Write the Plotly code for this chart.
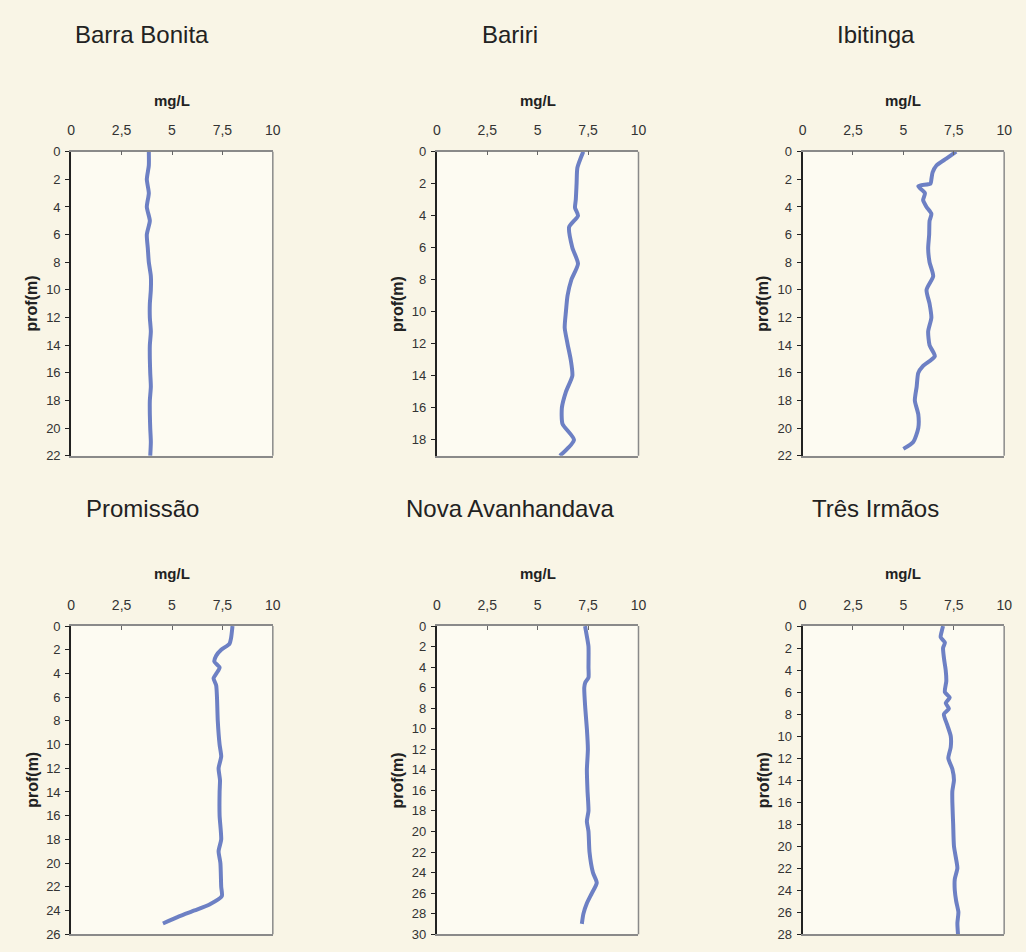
import plotly.graph_objects as go

# ---- data (depth in m, dissolved oxygen in mg/L) ----
names = ["Barra Bonita", "Bariri", "Ibitinga", "Promissão", "Nova Avanhandava", "Três Irmãos"]

bb_depth = [0, 1, 2, 3, 4, 5, 6, 7, 8, 9, 10, 11, 12, 13, 14, 15, 16, 17, 18, 19, 20, 21, 22]
bb_od = [3.85, 3.85, 3.75, 3.85, 3.75, 3.9, 3.75, 3.8, 3.85, 3.95, 3.95, 3.9, 3.9, 3.95, 3.9, 3.9,
         3.92, 3.95, 3.9, 3.9, 3.92, 3.95, 3.92]

ba_depth = [0, 1, 2, 3, 3.5, 4, 4.7, 6, 7, 8, 9, 10, 11, 12, 13, 14, 15, 16, 17, 18, 19]
ba_od = [7.26, 6.97, 6.93, 6.89, 6.85, 7.0, 6.56, 6.72, 7.0, 6.67, 6.48, 6.4, 6.34, 6.48, 6.64,
         6.72, 6.4, 6.2, 6.23, 6.8, 6.1]

ib_depth = [0, 0.5, 1, 1.5, 2, 2.3, 2.5, 3, 3.5, 4, 4.5, 5, 6, 7, 8, 9, 10, 11, 12, 13, 14, 14.8,
            15.5, 16, 17, 18, 19, 20, 21, 21.5]
ib_od = [7.62, 7.13, 6.64, 6.45, 6.39, 6.35, 5.74, 6.07, 5.98, 6.15, 6.39, 6.3, 6.28, 6.23, 6.3,
         6.48, 6.15, 6.3, 6.39, 6.23, 6.3, 6.56, 5.98, 5.74, 5.66, 5.57, 5.74, 5.74, 5.49, 5.0]

pr_depth = [0, 1, 1.5, 2, 2.5, 3, 3.5, 4, 4.4, 5, 6, 8, 10, 11, 12, 13, 14, 16, 18, 19, 20, 22,
            22.8, 23.5, 24, 24.5, 25.1]
pr_od = [8.0, 7.93, 7.85, 7.44, 7.19, 7.1, 7.36, 7.2, 7.06, 7.19, 7.23, 7.27, 7.36, 7.44, 7.31,
         7.38, 7.36, 7.36, 7.44, 7.31, 7.4, 7.44, 7.47, 6.86, 6.12, 5.35, 4.55]

na_depth = [0, 1, 2, 4, 5, 5.5, 6, 8, 10, 12, 14, 16, 18, 19, 20, 22, 24, 25, 26, 27, 28, 29]
na_od = [7.35, 7.44, 7.52, 7.52, 7.52, 7.36, 7.31, 7.36, 7.44, 7.49, 7.44, 7.47, 7.52, 7.44,
         7.52, 7.57, 7.74, 7.93, 7.69, 7.44, 7.27, 7.19]

ti_depth = [0, 0.5, 1, 1.5, 2, 3, 4, 5, 6, 6.5, 7, 7.5, 8, 9, 10, 11, 12, 13, 14, 15, 16, 18, 20,
            21, 22, 23, 24, 25, 26, 27, 28]
ti_od = [6.97, 6.9, 6.85, 7.06, 6.97, 7.02, 7.1, 7.13, 7.06, 7.3, 7.1, 7.26, 7.01, 7.18, 7.35,
         7.35, 7.23, 7.43, 7.51, 7.43, 7.43, 7.47, 7.51, 7.6, 7.68, 7.55, 7.55, 7.62, 7.73, 7.68, 7.71]

depths = [bb_depth, ba_depth, ib_depth, pr_depth, na_depth, ti_depth]
values = [bb_od, ba_od, ib_od, pr_od, na_od, ti_od]
depth_max = [22, 19, 22, 26, 30, 28]

x_ticks = [0, 2.5, 5, 7.5, 10]
x_ticktext = ["0", "2,5", "5", "7,5", "10"]

# ---- layout geometry (pixels in the 1026x952 window) ----
W, H = 1026, 952
col_px = [(68, 272), (438, 642), (808, 1012)]
row_px = [(147, 456), (629, 942)]
title_y_px = [28, 510]
title_x_px = [140, 512, 882]
unit_y_px = [95, 576]


def px_x(p):
    return p / W


def px_y(p):
    return 1 - p / H


fig = go.Figure()
font_family = "Liberation Sans, Arial, sans-serif"
line_color = "#6d80c4"
bg = "#f9f5e6"

for i in range(6):
    r, c = divmod(i, 3)
    k = i + 1
    xa = "xaxis" if k == 1 else f"xaxis{k}"
    ya = "yaxis" if k == 1 else f"yaxis{k}"
    xr = "x" if k == 1 else f"x{k}"
    yr = "y" if k == 1 else f"y{k}"
    x0, x1 = col_px[c]
    y0, y1 = row_px[r]
    xdom = [px_x(x0), px_x(x1)]
    ydom = [px_y(y1), px_y(y0)]

    fig.add_trace(go.Scatter(x=values[i], y=depths[i], mode="lines", xaxis=xr, yaxis=yr,
                             line=dict(color=line_color, width=4, shape="spline", smoothing=0.6),
                             showlegend=False, hoverinfo="x+y"))

    fig.update_layout(**{
        xa: dict(domain=xdom, anchor=yr, side="top", range=[0, 10], tickvals=x_ticks,
                 ticktext=x_ticktext, ticks="inside", ticklen=4, tickcolor="#666",
                 showline=True, linecolor="#8a8a8a", linewidth=1.5, mirror=True,
                 showgrid=False, zeroline=False, ticklabelstandoff=9,
                 tickfont=dict(size=14, color="#333", family=font_family)),
        ya: dict(domain=ydom, anchor=xr, range=[depth_max[i], 0],
                 tickvals=list(range(0, depth_max[i] + 1, 2)), ticks="outside", ticklen=4,
                 tickcolor="#222", showline=True, linecolor="#222", linewidth=2,
                 showgrid=False, zeroline=False, ticklabelstandoff=2,
                 tickfont=dict(size=13, color="#333", family=font_family)),
    })

    # right border in gray
    fig.add_shape(type="line", xref=f"{xr} domain", yref=f"{yr} domain", x0=1, x1=1, y0=0, y1=1,
                  line=dict(color="#8a8a8a", width=1.5), layer="above")

    fig.add_annotation(text=names[i], x=px_x(title_x_px[c]), y=px_y(title_y_px[r]),
                       xref="paper", yref="paper", showarrow=False, xanchor="center",
                       yanchor="middle", font=dict(size=24, color="#222", family=font_family))
    fig.add_annotation(text="<b>mg/L</b>", x=px_x((x0 + x1) / 2), y=px_y(unit_y_px[r]),
                       xref="paper", yref="paper", showarrow=False, xanchor="center",
                       yanchor="middle", font=dict(size=15, color="#222", family=font_family))
    fig.add_annotation(text="<b>prof(m)</b>", x=px_x(x0 - 40), y=px_y((y0 + y1) / 2),
                       xref="paper", yref="paper", showarrow=False, textangle=-90,
                       xanchor="center", yanchor="middle",
                       font=dict(size=16, color="#222", family=font_family))

fig.update_layout(width=W, height=H, margin=dict(l=0, r=0, t=0, b=0),
                  paper_bgcolor=bg, plot_bgcolor="#fdfbf2",
                  font=dict(family=font_family))

fig.write_html("out.html", config={"displayModeBar": False},
               post_script="document.body.style.margin='0';"
                           "document.body.style.background='" + bg + "';"
                           "document.body.style.overflow='hidden';")
